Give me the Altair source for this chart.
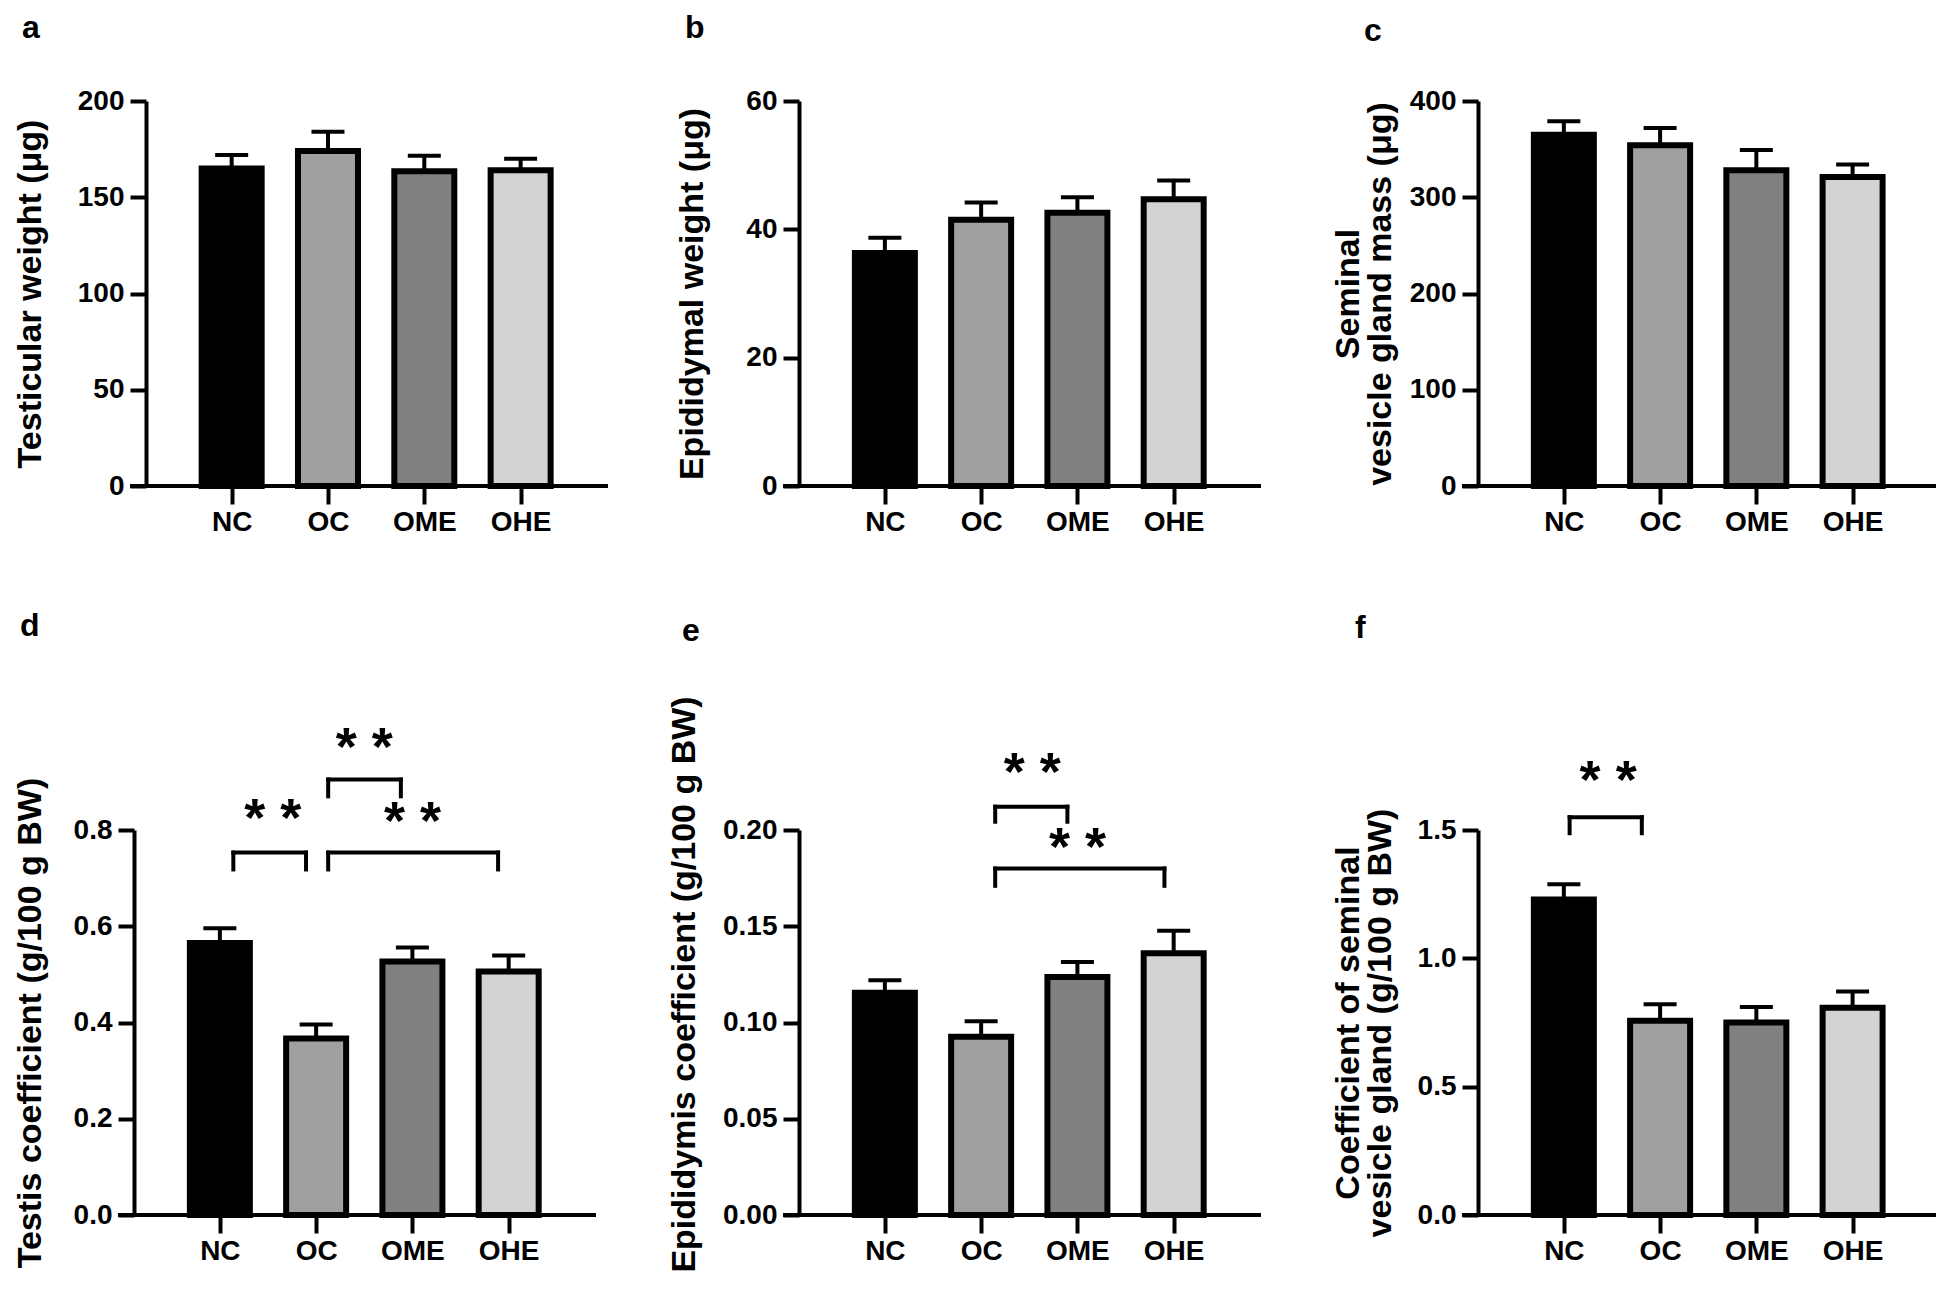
import json
import altair as alt
import pandas as pd

# ---------------- data ----------------
groups = ["NC", "OC", "OME", "OHE"]
bar_colors = ["#000000", "#a0a0a0", "#808080", "#d3d3d3"]

a_mean = [165, 174, 163.5, 164]
a_sem = [7, 10, 8, 6]
b_mean = [36.3, 41.5, 42.6, 44.7]
b_sem = [2.4, 2.7, 2.4, 2.9]
c_mean = [365, 354, 328, 321]
c_sem = [14, 18, 21, 13]
d_mean = [0.565, 0.367, 0.527, 0.506]
d_sem = [0.031, 0.029, 0.029, 0.033]
e_mean = [0.1155, 0.0926, 0.1236, 0.136]
e_sem = [0.0065, 0.0081, 0.0078, 0.0116]
f_mean = [1.229, 0.757, 0.750, 0.807]
f_sem = [0.060, 0.064, 0.060, 0.064]

a_ticks = [0, 50, 100, 150, 200]
b_ticks = [0, 20, 40, 60]
c_ticks = [0, 100, 200, 300, 400]
d_ticks = [0.0, 0.2, 0.4, 0.6, 0.8]
e_ticks = [0.00, 0.05, 0.10, 0.15, 0.20]
f_ticks = [0.0, 0.5, 1.0, 1.5]

# significance brackets (x in category index units, y in data units)
d_br_x1 = [0.14, 1.125, 1.125]
d_br_x2 = [0.895, 1.88, 2.89]
d_br_y = [0.753, 0.905, 0.753]
d_br_leg = [0.718, 0.870, 0.718]
d_star_x = [0.55, 1.50, 2.0]
d_star_y = [0.833, 0.980, 0.828]

e_br_x1 = [1.146, 1.146]
e_br_x2 = [1.896, 2.904]
e_br_y = [0.2121, 0.180]
e_br_leg = [0.2043, 0.171]
e_star_x = [1.53, 2.0]
e_star_y = [0.2320, 0.193]

f_br_x1 = [0.06]
f_br_x2 = [0.81]
f_br_y = [1.55]
f_br_leg = [1.4875]
f_star_x = [0.46]
f_star_y = [1.71]

star_text = "* *"

# ---------------- styling ----------------
FONT = "Liberation Sans"
H = 385
STEP = 98.4
LEFT_PAD = 0.84


def make_panel(means, sems, ymax, ticks, fmt, title, letter, width,
               title_x, title_y, letter_x, letter_y, axis_shift=0,
               brackets=None):
    df = pd.DataFrame({
        "grp": groups,
        "pos": list(range(len(groups))),
        "mean": means,
        "upper": [m + s for m, s in zip(means, sems)],
    })
    left = -LEFT_PAD - axis_shift / STEP
    right = left + width / STEP
    xs = alt.Scale(domain=[left, right], nice=False, zero=False)
    ys = alt.Scale(domain=[0, ymax], nice=False, zero=True)
    xaxis = alt.Axis(values=list(range(len(groups))),
                     labelExpr=json.dumps(groups) + "[datum.value]",
                     domain=False, grid=False, tickSize=18, tickWidth=4,
                     tickColor="black", labelFontSize=28, labelPadding=4,
                     labelFont=FONT, labelFontWeight="bold", labelColor="black",
                     labelFlush=False, labelOverlap=False, title=None)
    yaxis = alt.Axis(values=ticks, format=fmt, grid=False, domainWidth=4,
                     domainColor="black", tickSize=16, tickWidth=4,
                     tickColor="black", labelFontSize=28, labelPadding=6,
                     labelFont=FONT, labelFontWeight="bold", labelColor="black",
                     labelFlush=False, labelOverlap=False,
                     title=title, titleX=title_x, titleY=title_y,
                     titleAngle=270, titleAlign="center",
                     titleBaseline="middle", titleFontSize=34,
                     titleFont=FONT, titleFontWeight="bold", titleColor="black",
                     titleLineHeight=32, offset=-axis_shift)

    def X(f):
        return alt.X(f, scale=xs, axis=xaxis)

    def Y(f):
        return alt.Y(f, scale=ys, axis=yaxis)

    base = alt.Chart(df)
    bars = base.mark_bar(size=60, stroke="black", strokeWidth=6).encode(
        x=X("pos:Q"), y=Y("mean:Q"),
        fill=alt.Fill("grp:N", scale=alt.Scale(domain=groups, range=bar_colors),
                      legend=None))
    err = base.mark_rule(color="black", strokeWidth=4).encode(
        x=X("pos:Q"), y=Y("mean:Q"), y2="upper:Q")
    cap = base.mark_tick(orient="horizontal", size=33, thickness=4,
                         color="black", opacity=1).encode(
        x=X("pos:Q"), y=Y("upper:Q"))
    baseline = alt.Chart(pd.DataFrame({"k": [0]})).mark_rule(
        color="black", strokeWidth=4).encode(
        x=alt.value(axis_shift - 16), x2=alt.value(width), y=alt.value(H))
    lab = alt.Chart(pd.DataFrame({"t": [letter]})).mark_text(
        font=FONT, fontSize=32, fontWeight="bold", align="left",
        baseline="alphabetic", color="black").encode(
        text="t:N", x=alt.value(letter_x), y=alt.value(letter_y))
    layers = [bars, err, cap, baseline]
    if brackets is not None:
        x1, x2, yb, yl, sx, sy = brackets
        bdf = pd.DataFrame({"x1": x1, "x2": x2, "y": yb, "yleg": yl,
                            "sx": sx, "sy": sy, "s": [star_text] * len(x1)})
        bb = alt.Chart(bdf)
        hor = bb.mark_rule(color="black", strokeWidth=4, strokeCap="square").encode(
            x=X("x1:Q"), x2="x2:Q", y=Y("y:Q"))
        legl = bb.mark_rule(color="black", strokeWidth=4, strokeCap="square").encode(
            x=X("x1:Q"), y=Y("y:Q"), y2="yleg:Q")
        legr = bb.mark_rule(color="black", strokeWidth=4, strokeCap="square").encode(
            x=X("x2:Q"), y=Y("y:Q"), y2="yleg:Q")
        stars = bb.mark_text(font=FONT, fontSize=54, fontWeight="bold",
                             baseline="alphabetic", align="center", dy=22,
                             color="black").encode(
            x=X("sx:Q"), y=Y("sy:Q"), text="s:N")
        layers += [hor, legl, legr, stars]
    layers.append(lab)
    return alt.layer(*layers).properties(width=width, height=H)


pa = make_panel(a_mean, a_sem, 200, a_ticks, "d", "Testicular weight (μg)", "a",
                474, -116, H / 2, -112, -63, axis_shift=12)
pb = make_panel(b_mean, b_sem, 60, b_ticks, "d", "Epididymal weight (μg)", "b",
                462, -107, H / 2, -114, -63)
pc = make_panel(c_mean, c_sem, 400, c_ticks, "d",
                ["Seminal", "vesicle gland mass (μg)"], "c",
                458, -130, H / 2, -114, -60)
pd_ = make_panel(d_mean, d_sem, 0.8, d_ticks, ".1f",
                 "Testis coefficient (g/100 g BW)", "d",
                 462, -104, H / 2, -114, -194,
                 brackets=(d_br_x1, d_br_x2, d_br_y, d_br_leg, d_star_x, d_star_y))
pe = make_panel(e_mean, e_sem, 0.2, e_ticks, ".2f",
                "Epididymis coefficient (g/100 g BW)", "e",
                462, -115, 154, -117, -189,
                brackets=(e_br_x1, e_br_x2, e_br_y, e_br_leg, e_star_x, e_star_y))
pf = make_panel(f_mean, f_sem, 1.5, f_ticks, ".1f",
                ["Coefficient of seminal", "vesicle gland (g/100 g BW)"], "f",
                458, -130, H / 2, -123, -192,
                brackets=(f_br_x1, f_br_x2, f_br_y, f_br_leg, f_star_x, f_star_y))

row1 = alt.hconcat(pa, alt.hconcat(pb, pc, spacing=217, bounds="flush"),
                   spacing=191, bounds="flush")
row2 = alt.hconcat(pd_, alt.hconcat(pe, pf, spacing=217, bounds="flush"),
                   spacing=203, bounds="flush")

chart = alt.vconcat(row1, row2, spacing=729, bounds="flush").properties(
    padding={"left": 4, "top": 4, "right": 0, "bottom": 0},
    background="white",
).configure_view(strokeWidth=0)

chart.save("out.html", embed_options={"renderer": "svg", "actions": False})
